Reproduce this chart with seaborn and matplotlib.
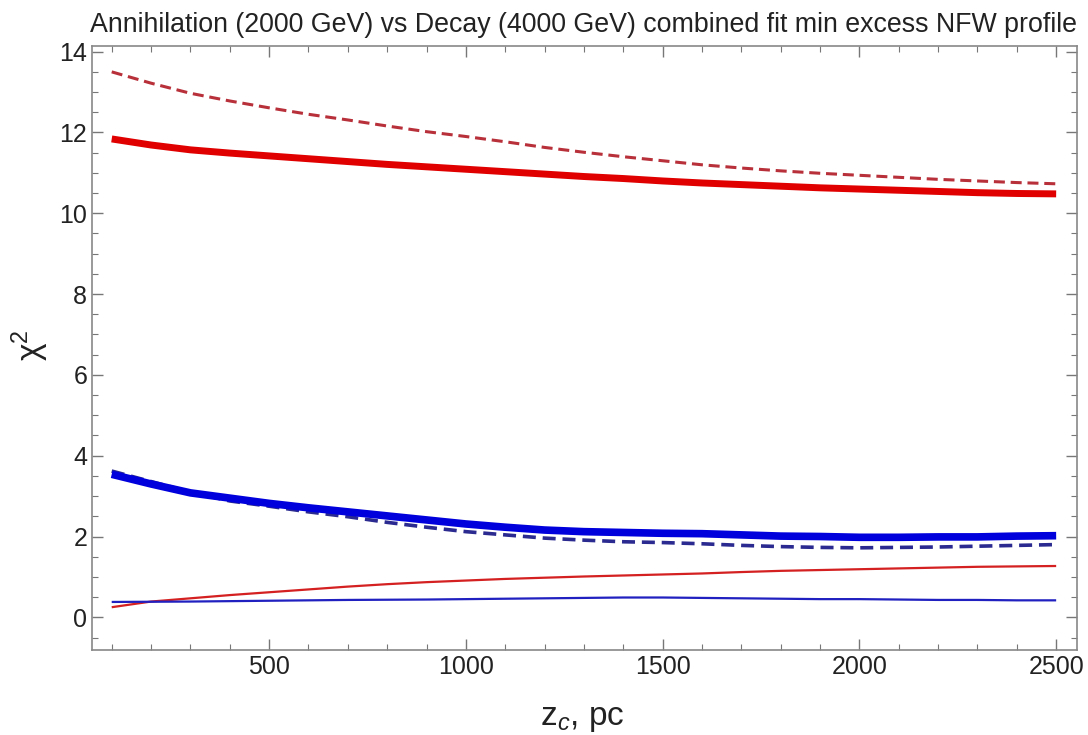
import matplotlib
matplotlib.use("Agg")
import matplotlib.pyplot as plt
from matplotlib.ticker import MultipleLocator
import seaborn as sns
import pandas as pd

# ---- data ----
z_c = [100, 200, 300, 400, 500, 600, 700, 800, 900, 1000, 1100, 1200, 1300,
       1400, 1500, 1600, 1700, 1800, 1900, 2000, 2100, 2200, 2300, 2400, 2500]
red_dashed = [13.50, 13.22, 12.97, 12.78, 12.61, 12.45, 12.31, 12.16, 12.02, 11.90, 11.77, 11.63, 11.51,
              11.40, 11.30, 11.20, 11.12, 11.05, 10.99, 10.94, 10.89, 10.84, 10.80, 10.76, 10.73]
red_thick = [11.84, 11.69, 11.57, 11.49, 11.42, 11.35, 11.28, 11.21, 11.15, 11.09, 11.03, 10.97, 10.91,
             10.86, 10.80, 10.75, 10.71, 10.67, 10.63, 10.60, 10.57, 10.54, 10.51, 10.49, 10.48]
blue_thick = [3.54, 3.30, 3.08, 2.95, 2.82, 2.71, 2.61, 2.51, 2.41, 2.31, 2.23, 2.16, 2.12,
              2.10, 2.08, 2.07, 2.04, 2.01, 2.00, 1.98, 1.98, 1.99, 1.99, 2.01, 2.02]
blue_dashed = [3.62, 3.36, 3.10, 2.88, 2.75, 2.61, 2.49, 2.35, 2.23, 2.12, 2.04, 1.96, 1.91,
               1.87, 1.85, 1.82, 1.78, 1.75, 1.73, 1.72, 1.73, 1.74, 1.76, 1.78, 1.80]
red_thin = [0.25, 0.39, 0.47, 0.55, 0.62, 0.69, 0.76, 0.82, 0.87, 0.91, 0.95, 0.98, 1.01,
            1.035, 1.06, 1.085, 1.12, 1.15, 1.17, 1.19, 1.21, 1.23, 1.25, 1.26, 1.27]
blue_thin = [0.38, 0.385, 0.39, 0.40, 0.41, 0.42, 0.43, 0.435, 0.44, 0.45, 0.46, 0.47, 0.48,
             0.49, 0.49, 0.48, 0.47, 0.46, 0.45, 0.45, 0.44, 0.43, 0.43, 0.42, 0.42]

title = "Annihilation (2000 GeV) vs Decay (4000 GeV) combined fit min excess NFW profile"
x_ticks = [500, 1000, 1500, 2000, 2500]
y_ticks = [0, 2, 4, 6, 8, 10, 12, 14]

sns.set_style("ticks")
plt.rcParams['font.family'] = ['Liberation Sans', 'DejaVu Sans']
plt.rcParams['mathtext.fontset'] = 'custom'
plt.rcParams['mathtext.rm'] = 'Liberation Sans'
plt.rcParams['mathtext.it'] = 'Liberation Sans:italic'

fig = plt.figure(figsize=(10.88, 7.35), dpi=100)
ax = fig.add_axes([0.0846, 0.1156, 0.9053, 0.8218])

series = [
    (red_dashed, dict(color="#b8303a", lw=2.2, dashes=(3.6, 1.9))),
    (red_thick, dict(color="#e00000", lw=5.0)),
    (blue_dashed, dict(color="#2a2a90", lw=2.6, dashes=(3.6, 1.9))),
    (blue_thick, dict(color="#0000dd", lw=5.5)),
    (red_thin, dict(color="#d42020", lw=1.6)),
    (blue_thin, dict(color="#2020c0", lw=1.6)),
]
for vals, style in series:
    df = pd.DataFrame({"z": z_c, "chi2": vals})
    dashes = style.pop("dashes", None)
    line_ax = sns.lineplot(data=df, x="z", y="chi2", ax=ax, color=style["color"],
                           linewidth=style["lw"], legend=False)
    ln = line_ax.lines[-1]
    if dashes is not None:
        ln.set_dashes(dashes)
    ln.set_solid_capstyle("butt")

ax.set_xlim(50, 2553)
ax.set_ylim(-0.81, 14.14)
ax.set_xticks(x_ticks)
ax.set_yticks(y_ticks)
ax.xaxis.set_minor_locator(MultipleLocator(100))
ax.yaxis.set_minor_locator(MultipleLocator(0.5))
ax.tick_params(which="both", direction="in", top=True, right=True, colors="#777777",
               labelcolor="#222222", labelsize=18)
ax.tick_params(which="major", length=8, width=1)
ax.tick_params(which="minor", length=4, width=0.8)
for s in ax.spines.values():
    s.set_color("#888888")
    s.set_linewidth(1.2)

ax.set_xlabel("")
ax.set_ylabel("")
fig.text(0.028, 0.531, "χ$^{2}$", rotation=90, fontsize=24, color="#222222",
         ha="center", va="center")
fig.text(0.535, 0.0136, "z$_{c}$, pc", fontsize=24, color="#222222",
         ha="center", va="baseline")
fig.text(0.536, 0.956, title, fontsize=19.3, color="#222222", ha="center", va="baseline")

fig.savefig("out.png", dpi=100)
